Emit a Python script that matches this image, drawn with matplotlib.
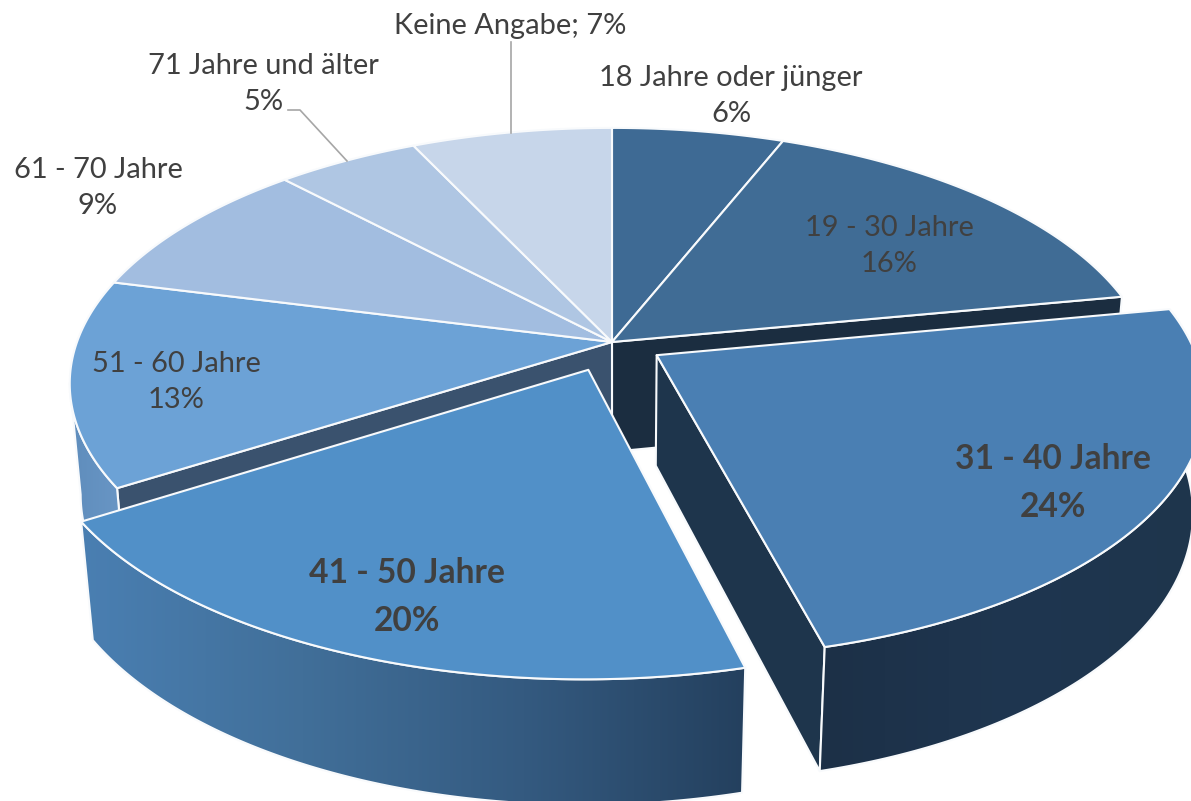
import matplotlib

matplotlib.use("Agg")
import matplotlib.pyplot as plt
import numpy as np
from matplotlib.colors import LinearSegmentedColormap
from matplotlib.patches import Polygon

plt.rcParams["font.family"] = ["Lato", "DejaVu Sans"]

categories = ["18 Jahre oder jünger", "19 - 30 Jahre", "31 - 40 Jahre", "41 - 50 Jahre",
              "51 - 60 Jahre", "61 - 70 Jahre", "71 Jahre und älter", "Keine Angabe"]
shares = [6, 16, 24, 20, 13, 9, 5, 7]
top_colors = ["#3e6a94", "#406c95", "#4a7fb3", "#5190c8", "#6ca2d6", "#a2bde0", "#afc6e3", "#c7d6ea"]
explode = [0, 0, 0.098, 0.118, 0, 0, 0, 0]

W, H = 1191, 801
CX, CY = 612, 342
A, B, K, M, D = 535, 249, 0.163, 0.02, 112
EDGE = "#f8fafc"
INK = "#404040"

edges = np.cumsum([0] + shares) * 3.6


def project(u, v, z=0.0):
    w = 1 + K * v + M * z
    return np.column_stack([CX + A * u / w, CY + (-B * v + D * z) / w])


def arc(i, z=0.0, n=120):
    t = np.radians(np.linspace(edges[i], edges[i + 1], n))
    mid = np.radians((edges[i] + edges[i + 1]) / 2)
    return np.sin(t) + explode[i] * np.sin(mid), np.cos(t) + explode[i] * np.cos(mid)


def centre(i):
    mid = np.radians((edges[i] + edges[i + 1]) / 2)
    return np.array([explode[i] * np.sin(mid)]), np.array([explode[i] * np.cos(mid)])


def poly(ax, pts, fc, lw=1.5, z=1):
    ax.add_patch(Polygon(pts, closed=True, facecolor=fc, edgecolor=EDGE, linewidth=lw, joinstyle="round", zorder=z))


def top(ax, i, z):
    u, v = arc(i)
    cu, cv = centre(i)
    poly(ax, np.vstack([project(cu, cv), project(u, v)]), top_colors[i], z=z)


def wall_pts(i, a=None, b=None):
    u, v = arc(i)
    u, v = u[a:b], v[a:b]
    return np.vstack([project(u, v), project(u, v, 1)[::-1]])


def cut_face(i, end, fc, z):
    # flat face from the slice centre out to its first (0) or last (-1) edge
    u, v = arc(i)
    cu, cv = centre(i)
    pts = np.vstack([project(cu, cv), project(u[[end]], v[[end]]),
                     project(u[[end]], v[[end]], 1), project(cu, cv, 1)])
    poly(ax, pts, fc, z=z)


def gradient_wall(ax, pts, stops, z):
    cmap = LinearSegmentedColormap.from_list("wall", stops)
    x0, x1 = pts[:, 0].min(), pts[:, 0].max()
    y0, y1 = pts[:, 1].min(), pts[:, 1].max()
    im = ax.imshow(np.linspace(0, 1, 256)[None, :], extent=(x0, x1, y1, y0), cmap=cmap,
                   aspect="auto", zorder=z, interpolation="bilinear")
    clip = Polygon(pts, closed=True, transform=ax.transData)
    im.set_clip_path(clip)
    poly(ax, pts, "none", z=z + 0.1)


fig = plt.figure(figsize=(W / 100, H / 100), dpi=100, facecolor="white")
ax = fig.add_axes([0, 0, 1, 1])
ax.axis("off")

# unexploded part first, its two inner faces show through the gap
cut_face(1, -1, "#1b2d40", 1)
cut_face(4, 0, "#3a526e", 1.5)
gradient_wall(ax, wall_pts(4, 0, 60), ["#5f8dbc", "#6a97c6"], 2)
for i in [0, 1, 4, 5, 6, 7]:
    top(ax, i, 3)

cut_face(2, -1, "#1e354c", 4)
gradient_wall(ax, wall_pts(2), ["#1c3047", "#1f3650", "#1e354c"], 4.2)
top(ax, 2, 5)

gradient_wall(ax, wall_pts(3), ["#4a7fb2", "#416f99", "#345a80", "#24405e"], 6)
top(ax, 3, 7)

ax.plot([511, 511], [42, 133], color="#a6a6a6", lw=1.2, zorder=8)
ax.plot([288, 300, 347], [110, 110, 161], color="#a6a6a6", lw=1.2, zorder=8)

label_xy = [(731, 96), (889, 246), (1053, 483), (407, 597), (176, 382), (98, 188), (263, 84), (510, 26)]
for i, (x, y) in enumerate(label_xy):
    bold = shares[i] >= 20
    sep = "; " if categories[i] == "Keine Angabe" else "\n"
    ax.text(x, y, f"{categories[i]}{sep}{shares[i]}%", ha="center", va="center", color=INK, zorder=9,
            linespacing=1.58 if bold else 1.5,
            fontsize=24.2 if bold else 20.9, fontweight="bold" if bold else "normal")

ax.set_xlim(0, W)
ax.set_ylim(H, 0)
fig.savefig("out.png", dpi=100)
